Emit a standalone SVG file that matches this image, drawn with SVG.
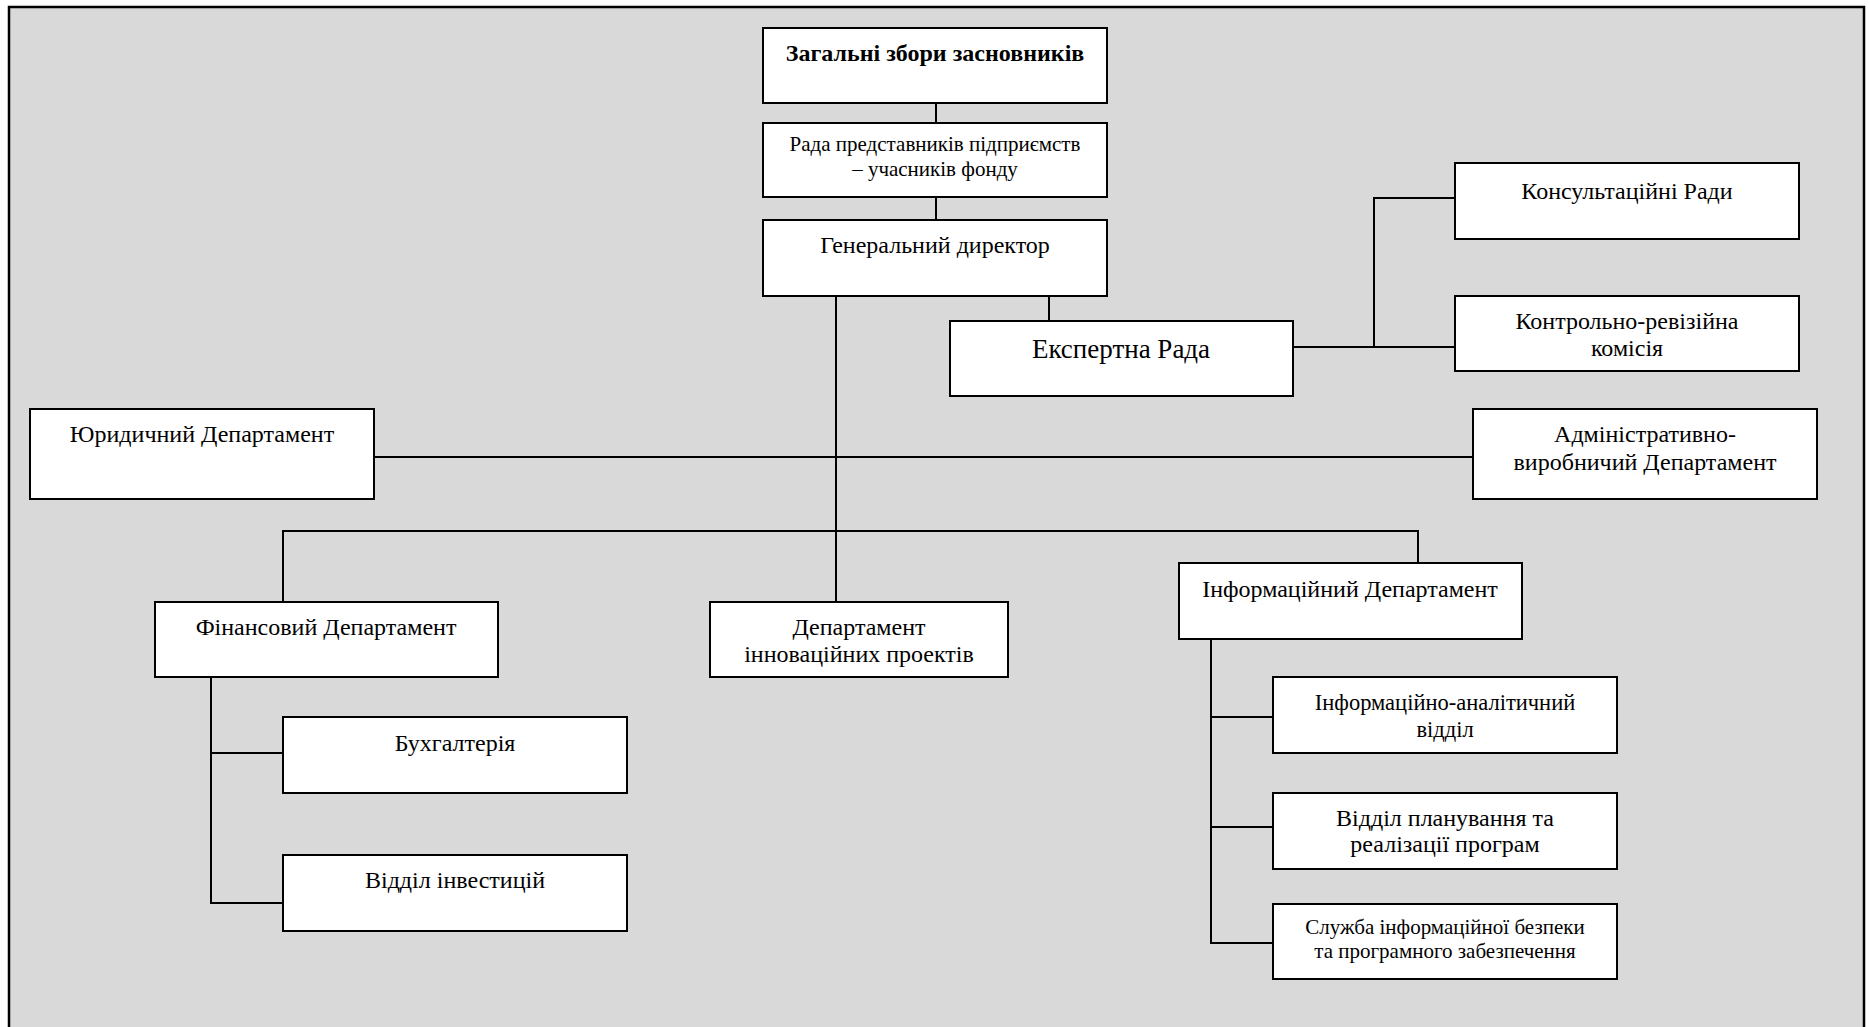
<svg xmlns="http://www.w3.org/2000/svg" width="1869" height="1027" viewBox="0 0 1869 1027">
<style>
.bx{fill:#fff;stroke:#000;stroke-width:2}
.ln{fill:none;stroke:#000;stroke-width:2}
text{font-family:"Liberation Serif","Times New Roman",serif;fill:#000;text-anchor:middle;font-size:24px}
.b{font-weight:bold;font-size:24px}
.s21{font-size:21px}
.s22{font-size:22.5px}
.s27{font-size:27px}
</style>
<rect x="0" y="0" width="1869" height="1027" fill="#fff"/>
<path d="M9,1030 V7 H1864 V1030" fill="#d9d9d9" stroke="#000" stroke-width="2.5"/>
<g id="connectors">
<path class="ln" d="M936,103 V123 M936,197 V220 M1049,296 V321"/>
<path class="ln" d="M836,296 V602" stroke-width="1.6"/>
<path class="ln" d="M1293,347 H1455 M1374,347 V198 H1455"/>
<path class="ln" d="M374,457 H1473"/>
<path class="ln" d="M283,602 V531 H1418 V563"/>
<path class="ln" d="M211,677 V903 H283 M211,753 H283"/>
<path class="ln" d="M1211,639 V943 H1273 M1211,717 H1273 M1211,827 H1273"/>
</g>
<g id="n1"><rect class="bx" x="763" y="28" width="344" height="75"/><text class="b" x="935" y="61">Загальні збори засновників</text></g>
<g id="n2"><rect class="bx" x="763" y="123" width="344" height="74"/><text class="s21" x="935" y="151">Рада представників підприємств</text><text class="s21" x="935" y="176">– учасників фонду</text></g>
<g id="n3"><rect class="bx" x="763" y="220" width="344" height="76"/><text x="935" y="253">Генеральний директор</text></g>
<g id="n4"><rect class="bx" x="950" y="321" width="343" height="75"/><text class="s27" x="1121" y="358">Експертна Рада</text></g>
<g id="n5"><rect class="bx" x="1455" y="163" width="344" height="76"/><text x="1627" y="199">Консультаційні Ради</text></g>
<g id="n6"><rect class="bx" x="1455" y="296" width="344" height="75"/><text x="1627" y="329">Контрольно-ревізійна</text><text x="1627" y="356">комісія</text></g>
<g id="n7"><rect class="bx" x="30" y="409" width="344" height="90"/><text x="202" y="442">Юридичний Департамент</text></g>
<g id="n8"><rect class="bx" x="1473" y="409" width="344" height="90"/><text x="1645" y="442">Адміністративно-</text><text x="1645" y="470">виробничий Департамент</text></g>
<g id="n9"><rect class="bx" x="155" y="602" width="343" height="75"/><text x="326" y="635">Фінансовий Департамент</text></g>
<g id="n10"><rect class="bx" x="710" y="602" width="298" height="75"/><text x="859" y="635">Департамент</text><text x="859" y="662">інноваційних проектів</text></g>
<g id="n11"><rect class="bx" x="1179" y="563" width="343" height="76"/><text x="1350" y="597">Інформаційний Департамент</text></g>
<g id="n12"><rect class="bx" x="283" y="717" width="344" height="76"/><text x="455" y="751">Бухгалтерія</text></g>
<g id="n13"><rect class="bx" x="283" y="855" width="344" height="76"/><text x="455" y="888">Відділ інвестицій</text></g>
<g id="n14"><rect class="bx" x="1273" y="677" width="344" height="76"/><text class="s22" x="1445" y="710">Інформаційно-аналітичний</text><text class="s22" x="1445" y="737">відділ</text></g>
<g id="n15"><rect class="bx" x="1273" y="793" width="344" height="76"/><text x="1445" y="826">Відділ планування та</text><text x="1445" y="852">реалізації програм</text></g>
<g id="n16"><rect class="bx" x="1273" y="904" width="344" height="75"/><text class="s21" x="1445" y="934">Служба інформаційної безпеки</text><text class="s21" x="1445" y="958">та програмного забезпечення</text></g>
</svg>
